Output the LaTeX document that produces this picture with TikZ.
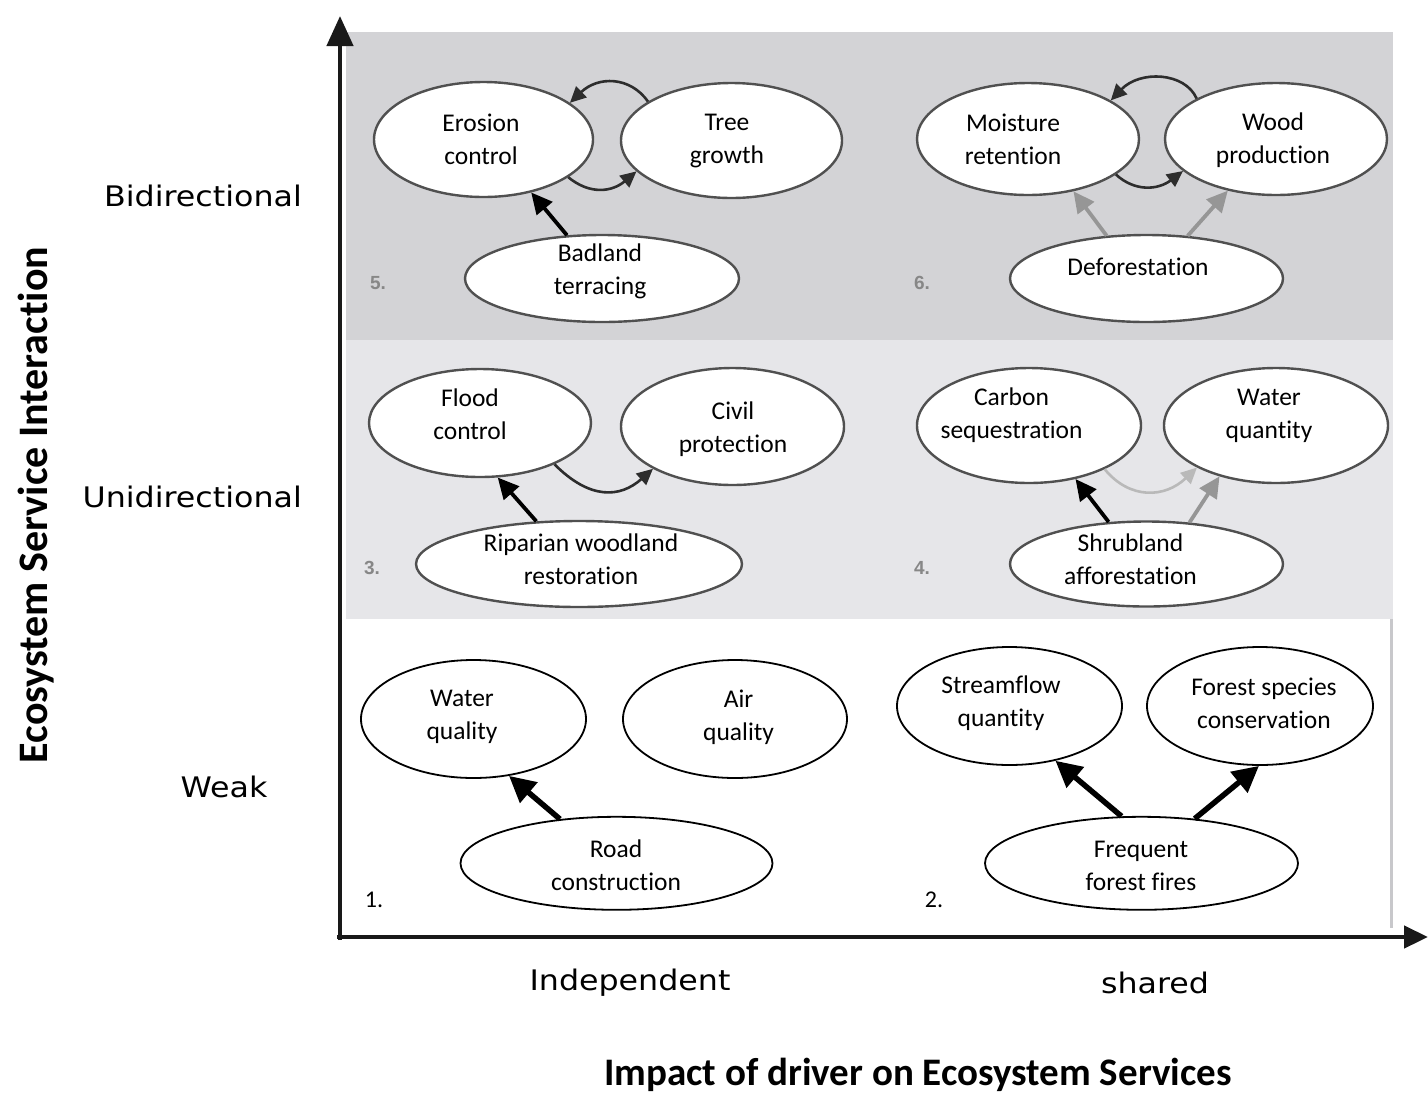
\documentclass[tikz,border=0pt]{standalone}
\usepackage{fontspec}
\setmainfont{Carlito}[Ligatures=NoCommon]
\newfontfamily\sidefont[FakeStretch=1.12]{DejaVu Sans}
\newfontfamily\numfont{Liberation Sans}
\usetikzlibrary{shapes.geometric,arrows.meta}
\definecolor{bandtop}{RGB}{211,211,214}
\definecolor{bandmid}{RGB}{230,230,233}
\definecolor{ellline}{RGB}{80,80,80}
\definecolor{curvecol}{RGB}{45,45,45}
\definecolor{grayarrow}{RGB}{150,150,150}
\definecolor{lightcurve}{RGB}{185,185,185}
\definecolor{numgray}{RGB}{135,135,135}
\definecolor{edgegray}{RGB}{200,200,203}
\tikzset{
  ell/.style 2 args={ellipse, draw=ellline, fill=white, line width=2.4pt,
    minimum width=#1pt, minimum height=#2pt, inner sep=0pt},
  ellb/.style 2 args={ellipse, draw=black, fill=white, line width=1.8pt,
    minimum width=#1pt, minimum height=#2pt, inner sep=0pt},
  txt/.style={inner sep=0pt, align=center, font=\fontsize{25.5}{33}\selectfont},
  side/.style={inner sep=0pt, font=\sidefont\fontsize{28.3}{34}\selectfont},
  ttl/.style={inner sep=0pt, font=\bfseries\fontsize{39}{45}\selectfont},
  ttlv/.style={inner sep=0pt, font=\bfseries\fontsize{42}{48}\selectfont},
  num/.style={inner sep=0pt, text=numgray, font=\numfont\bfseries\fontsize{19}{21}\selectfont},
  numb/.style={inner sep=0pt, font=\fontsize{24}{28}\selectfont},
  curv/.style={draw=curvecol, line width=2.6pt, -{Triangle[length=16pt,width=15pt]}},
  lightcurv/.style={draw=lightcurve, line width=2.6pt, -{Triangle[length=16pt,width=15pt]}},
  thk/.style={draw=black, line width=3.8pt, -{Triangle[length=21pt,width=20pt]}},
  grayarr/.style={draw=grayarrow, line width=3.8pt, -{Triangle[length=21pt,width=20pt]}},
  bigarr/.style={draw=black, line width=5.5pt, -{Triangle[length=26pt,width=26pt]}},
  axisline/.style={draw=black!90, line width=4.5pt},
}
\begin{document}
\begin{tikzpicture}[x=1pt,y=-1pt]
\useasboundingbox (0,0) rectangle (1428,1096);
% background bands
\fill[bandtop] (346,32) rectangle (1393,340);
\fill[bandmid] (346,340) rectangle (1393,619);
\draw[edgegray, line width=3pt] (1391,619) -- (1391,928);

% axes
\coordinate (yorig) at (340,940);
\coordinate (ytip) at (340,16);
\coordinate (xorig) at (337,937);
\coordinate (xtip) at (1428,937);
\draw[axisline, -{Triangle[length=30pt,width=26pt]}] (yorig) -- (ytip);
\draw[axisline, -{Triangle[length=24pt,width=22pt]}] (xorig) -- (xtip);

% ---------- panel 5 ----------
\node[ell={219}{115}] (ero) at (483.5,139.5) {};
\node[ell={221}{115}] (tree) at (731.5,140.5) {};
\node[ell={274}{87}] (bad) at (602,278.5) {};
\node[txt] (ero-t) at (481,139) {Erosion\\control};
\node[txt] (tree-t) at (727,141.5) {Tree\\growth};
\node[txt] (bad-t) at (600,271) {Badland\\terracing};
\node[num] (n5) at (378,283) {5.};
\draw[curv] (tree.155) .. controls (630,76) and (598,76) .. (ero.23);
\draw[curv] (ero.-24) .. controls (590,195) and (612,192) .. (tree.198);
\draw[thk] (bad.129) -- (ero.-48);

% ---------- panel 6 ----------
\node[ell={222}{112}] (moist) at (1028,139) {};
\node[ell={222}{112}] (wood) at (1276,139) {};
\node[ell={273}{87}] (defo) at (1146.5,278.5) {};
\node[txt] (moist-t) at (1013,139.5) {Moisture\\retention};
\node[txt] (wood-t) at (1273,140) {Wood\\production};
\node[txt] (defo-t) at (1138,266.7) {Deforestation};
\node[num] (n6) at (922,283) {6.};
\draw[curv] (wood.153) .. controls (1185,72) and (1140,70) .. (moist.25);
\draw[curv] (moist.-22) .. controls (1135,192) and (1158,190) .. (wood.199);
\draw[grayarr] (defo.133) -- (moist.-49);
\draw[grayarr] (defo.46) -- (wood.-133);

% ---------- panel 3 ----------
\node[ell={222}{108}] (flood) at (480,423) {};
\node[ell={223}{117}] (civil) at (732.5,426.5) {};
\node[ell={326}{86}] (rip) at (579,564) {};
\node[txt] (flood-t) at (470,414) {Flood\\control};
\node[txt] (civil-t) at (733,429) {Civil\\protection};
\node[txt] (rip-t) at (581,559.5) {Riparian woodland\\restoration};
\node[num] (n3) at (372,568) {3.};
\draw[curv] (flood.-29) .. controls (590,500) and (620,498) .. (civil.208);
\draw[thk] (rip.135) -- (flood.-72);

% ---------- panel 4 ----------
\node[ell={224}{115}] (carbon) at (1029,425.5) {};
\node[ell={224}{115}] (waterq) at (1276,425.5) {};
\node[ell={273}{85}] (shrub) at (1146.5,564) {};
\node[txt] (carbon-t) at (1011.5,415) {Carbon\\sequestration};
\node[txt] (waterq-t) at (1269,415.5) {Water\\quantity};
\node[txt] (shrub-t) at (1130.5,559.5) {Shrubland\\afforestation};
\node[num] (n4) at (922,568) {4.};
\draw[lightcurv] (carbon.-30) .. controls (1130,500) and (1165,498) .. (waterq.208);
\draw[thk] (shrub.132) -- (carbon.-49);
\draw[grayarr] (shrub.44) -- (waterq.222);

% ---------- panel 1 ----------
\node[ellb={225}{118}] (wq) at (473.5,719) {};
\node[ellb={224}{118}] (aq) at (735,719) {};
\node[ellb={312}{93}] (road) at (616.5,863.3) {};
\node[txt] (wq-t) at (462,717) {Water\\quality};
\node[txt] (aq-t) at (738.6,717) {Air\\quality};
\node[txt] (road-t) at (616,865.5) {Road\\construction};
\node[numb] (n1) at (374,900) {1.};
\draw[bigarr] (road.142) -- (wq.-58);

% ---------- panel 2 ----------
\node[ellb={225}{118}] (sf) at (1009.5,706) {};
\node[ellb={226}{118}] (fsc) at (1260,706) {};
\node[ellb={313}{93}] (fff) at (1141.5,863.3) {};
\node[txt] (sf-t) at (1001,703.5) {Streamflow\\quantity};
\node[txt] (fsc-t) at (1264,703.5) {Forest species\\conservation};
\node[txt] (fff-t) at (1141,865.5) {Frequent\\forest fires};
\node[numb] (n2) at (934,900) {2.};
\draw[bigarr] (fff.113) -- (sf.-50);
\draw[bigarr] (fff.40) -- (fsc.-91);

% ---------- axis labels ----------
\node[side, anchor=east] (bidir) at (302,196) {Bidirectional};
\node[side, anchor=east] (unidir) at (302,497) {Unidirectional};
\node[side] (weak) at (224,787) {Weak};
\node[side] (indep) at (630,983) {Independent};
\node[side] (shared) at (1155,983) {shared};
\node[ttl] (xtitle) at (918,1075) {Impact of driver on Ecosystem Services};
\node[ttlv, rotate=90] (ytitle) at (36,505) {Ecosystem Service Interaction};
\end{tikzpicture}
\end{document}
